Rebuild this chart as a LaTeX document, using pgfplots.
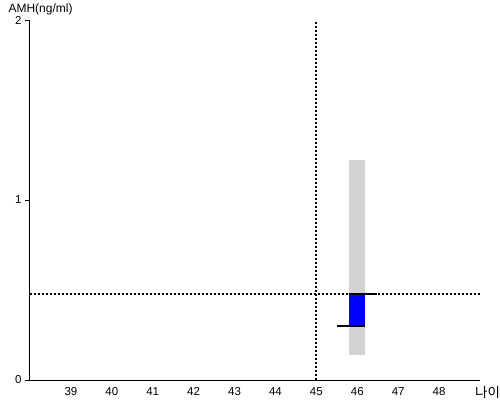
\documentclass[border=0pt]{standalone}
\usepackage{fontspec}
\setmainfont{Liberation Sans}
\newfontfamily\kr{Noto Sans CJK KR}
\usepackage{pgfplots}
\pgfplotsset{compat=1.18}
\begin{document}
\begin{tikzpicture}[x=1pt,y=1pt]
\begin{axis}[
  at={(0,0)}, anchor=south west,
  scale only axis, width=450pt, height=360pt,
  xmin=38, xmax=49, ymin=0, ymax=2,
  axis x line*=bottom, axis y line*=left,
  axis line style={line width=1pt, -},
  xtick={39,40,41,42,43,44,45,46,47,48},
  ytick={0,1,2},
  yticklabels={0,1,\raisebox{-2.5pt}{2}},
  x tick style={draw=none},
  y tick style={line width=0.8pt, black},
  tick align=outside, major tick length=5pt,
  /pgf/number format/assume math mode=true,
  ticklabel style={font=\fontsize{11.5}{13}\selectfont},
  xticklabel style={yshift=1pt},
  yticklabel style={xshift=0pt},
  xlabel={\kr 나이},
  xlabel style={at={(rel axis cs:1,0)}, anchor=center, xshift=7.5pt, yshift=-12pt, font=\fontsize{13.5}{14}\selectfont},
  ylabel={AMH(ng/ml)},
  ylabel style={rotate=-90, at={(rel axis cs:0,1)}, anchor=base west, xshift=-25pt, yshift=7.5pt, font=\fontsize{12}{14}\selectfont},
  clip=false,
]
\addplot[fill={rgb,255:red,211;green,211;blue,211}, draw=none] coordinates {(45.8,0.14) (46.2,0.14) (46.2,1.222) (45.8,1.222)} -- cycle;
\addplot[fill=blue, draw=none] coordinates {(45.8,0.30) (46.2,0.30) (46.2,0.478) (45.8,0.478)} -- cycle;
\addplot[black, line width=1.8pt, dash pattern=on 2pt off 2pt] coordinates {(38,0.478) (49,0.478)};
\addplot[black, line width=1.8pt, dash pattern=on 2pt off 2pt] coordinates {(45,0) (45,2)};
\addplot[black, line width=1.8pt] coordinates {(45.8,0.478) (46.47,0.478)};
\addplot[black, line width=1.8pt] coordinates {(45.5,0.30) (46.2,0.30)};
\end{axis}
\pgfresetboundingbox
\path (-30,-20) rectangle (470,380);
\end{tikzpicture}
\end{document}
